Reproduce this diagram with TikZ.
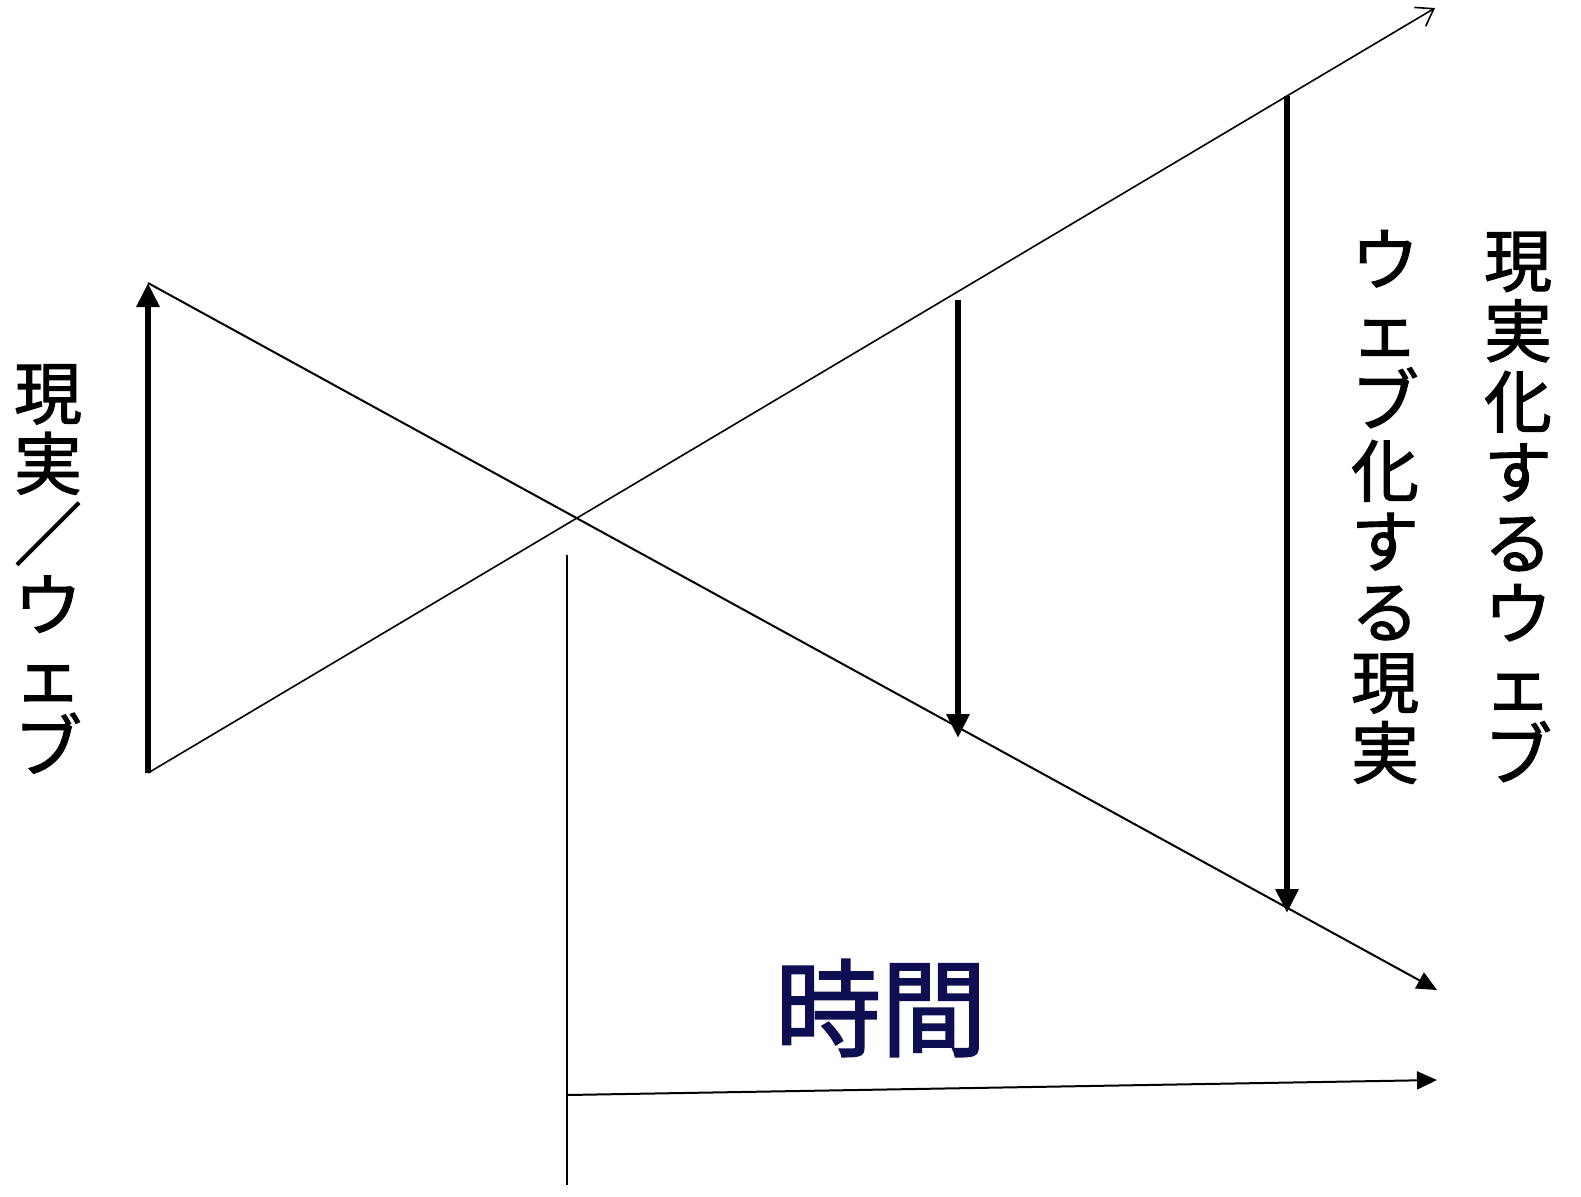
\documentclass[tikz,border=0pt]{standalone}
\usepackage{fontspec}
\newfontfamily\jpfont[FakeBold=1.6]{Noto Sans CJK JP}
\usetikzlibrary{arrows.meta}
\definecolor{timenavy}{RGB}{14,14,82}
\tikzset{
  thinline/.style={line width=2pt},
  thickarrow/.style={line width=6pt,-{Triangle[length=24pt,width=22pt]}},
  thinarrow/.style={line width=2pt,-{Triangle[length=20pt,width=18pt]}},
  openarrow/.style={line width=1.6pt,-{Straight Barb[length=16pt,width=22pt]}},
  vlabel/.style={font=\jpfont\fontsize{68pt}{70.5pt}\selectfont,align=center,inner sep=0pt}
}
\begin{document}
\begin{tikzpicture}[x=1pt,y=-1pt]
\useasboundingbox (0,0) rectangle (1581,1196);
% coordinates
\coordinate (aS) at (148,283);
\coordinate (aE) at (1437,990);
\coordinate (bS) at (148,773);
\coordinate (bE) at (1435,8);
\coordinate (lB) at (148,773);
\coordinate (lT) at (148,283);
\coordinate (mT) at (958,300);
\coordinate (mB) at (958,738);
\coordinate (rT) at (1287,96);
\coordinate (rB) at (1287,913);
\coordinate (vT) at (567,555);
\coordinate (vB) at (567,1185);
\coordinate (hS) at (567,1095);
\coordinate (hE) at (1437,1080);
% diagonal lines
\draw[thinarrow] (aS) -- (aE);
\draw[openarrow] (bS) -- (bE);
% thick arrows
\draw[thickarrow] (lB) -- (lT);
\draw[thickarrow] (mT) -- (mB);
\draw[thickarrow] (rT) -- (rB);
% time axis
\draw[thinline] (vT) -- (vB);
\draw[thinarrow] (hS) -- (hE);
% labels
\node[vlabel] (left) at (48,569) {現\\実\\／\\ウ\\ェ\\ブ};
\node[vlabel] (r1) at (1385,507) {ウ\\ェ\\ブ\\化\\す\\る\\現\\実};
\node[vlabel] (r2) at (1518,507) {現\\実\\化\\す\\る\\ウ\\ェ\\ブ};
\node[font=\jpfont\fontsize{106pt}{110pt}\selectfont,text=timenavy,inner sep=0pt] (time) at (881,1008) {時間};
\end{tikzpicture}
\end{document}
